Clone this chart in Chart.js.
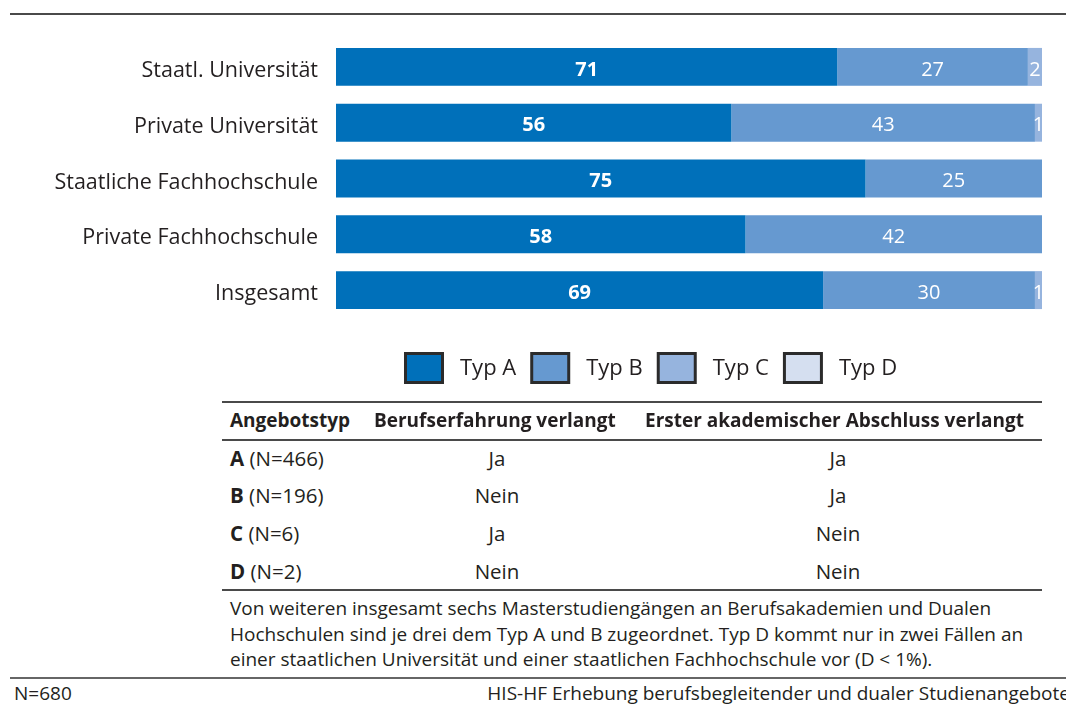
<!DOCTYPE html>
<html lang="de">
<head>
<meta charset="utf-8">
<script src="https://cdn.jsdelivr.net/npm/chart.js@4"></script>
<style>
  body { margin: 0; background: #fff; font-family: "Open Sans", sans-serif; color: #231f20; }
  #wrap { position: relative; width: 1066px; height: 704px; overflow: hidden; }
  #chartBox { position: absolute; left: 0; top: 0; width: 1066px; height: 403px; }
  .rule { position: absolute; background: #4a4a4a; }
  .t { position: absolute; white-space: nowrap; font-size: 19px; line-height: 26px; }
  .th { font-weight: bold; font-size: 19px; }
  .tb { font-size: 20.5px; }
  .c { transform: translateX(-50%); }
</style>
</head>
<body>
<div id="wrap">
  <div class="rule" style="left:10px; top:13px; width:1056px; height:2px;"></div>
  <div id="chartBox"><canvas id="grafico"></canvas></div>
  <div id="tabelle"></div>
</div>
<script>
const kategorien = ["Staatl. Universität", "Private Universität", "Staatliche Fachhochschule", "Private Fachhochschule", "Insgesamt"];
const typA = [71, 56, 75, 58, 69];
const typB = [27, 43, 25, 42, 30];
const typC = [2, 1, 0, 0, 1];
const typD = [0, 0, 0, 0, 0];
const serienNamen = ["Typ A", "Typ B", "Typ C", "Typ D"];
const farben = ["#0070ba", "#6699d0", "#96b4de", "#d5dff0"];

const tabellenKopf = ["Angebotstyp", "Berufserfahrung verlangt", "Erster akademischer Abschluss verlangt"];
const tabellenTyp = ["A", "B", "C", "D"];
const tabellenN = ["(N=466)", "(N=196)", "(N=6)", "(N=2)"];
const berufserfahrung = ["Ja", "Nein", "Ja", "Nein"];
const ersterAbschluss = ["Ja", "Ja", "Nein", "Nein"];
const anmerkung = [
  "Von weiteren insgesamt sechs Masterstudiengängen an Berufsakademien und Dualen",
  "Hochschulen sind je drei dem Typ A und B zugeordnet. Typ D kommt nur in zwei Fällen an",
  "einer staatlichen Universität und einer staatlichen Fachhochschule vor (D < 1%)."
];
const fussLinks = "N=680";
const fussRechts = "HIS-HF Erhebung berufsbegleitender und dualer Studienangebote";

// Werte in die Balken schreiben
const balkenWerte = {
  id: "balkenWerte",
  afterDatasetsDraw(chart) {
    const ctx = chart.ctx;
    chart.data.datasets.forEach((ds, i) => {
      const meta = chart.getDatasetMeta(i);
      meta.data.forEach((bar, j) => {
        const wert = ds.data[j];
        if (!wert) return;
        ctx.save();
        ctx.fillStyle = "#ffffff";
        ctx.font = (i === 0 ? "bold " : "") + "20px 'Open Sans'";
        ctx.textAlign = "center";
        ctx.textBaseline = "middle";
        ctx.fillText(String(wert), (bar.x + bar.base) / 2, bar.y + 3);
        ctx.restore();
      });
    });
  }
};

// eigene Legende unter dem Diagramm
const legende = {
  id: "legende",
  afterDraw(chart) {
    const ctx = chart.ctx;
    let x = 404;
    const y = 352;
    ctx.save();
    ctx.font = "22px 'Open Sans'";
    ctx.textBaseline = "middle";
    chart.data.datasets.forEach((ds) => {
      ctx.fillStyle = ds.backgroundColor;
      ctx.fillRect(x + 1.5, y + 1.5, 37, 29);
      ctx.strokeStyle = "#2b2b2b";
      ctx.lineWidth = 3;
      ctx.strokeRect(x + 1.5, y + 1.5, 37, 29);
      ctx.fillStyle = "#231f20";
      ctx.fillText(ds.label, x + 56, y + 17);
      x += 56 + ctx.measureText(ds.label).width + 14;
    });
    ctx.restore();
  }
};

const reihen = [typA, typB, typC, typD];

new Chart(document.getElementById("grafico"), {
  type: "bar",
  data: {
    labels: kategorien,
    datasets: reihen.map((d, i) => ({
      label: serienNamen[i],
      data: d,
      backgroundColor: farben[i],
      borderWidth: 0,
      barPercentage: 0.85,
      categoryPercentage: 0.8
    }))
  },
  options: {
    indexAxis: "y",
    responsive: true,
    maintainAspectRatio: false,
    animation: false,
    layout: { padding: { top: 39, left: 0, right: 24, bottom: 85 } },
    scales: {
      x: {
        stacked: true,
        display: false,
        min: 0,
        max: 100
      },
      y: {
        stacked: true,
        grid: { display: false },
        border: { display: false },
        ticks: {
          color: "#231f20",
          padding: 10,
          labelOffset: 4,
          font: { family: "'Open Sans'", size: 21.5 }
        },
        afterFit: function (scale) { scale.width = 336; }
      }
    },
    plugins: {
      tooltip: { enabled: false },
      legend: { display: false }
    }
  },
  plugins: [balkenWerte, legende]
});

// Tabelle und Fußzeile
function text(html, x, yMitte, extra) {
  return `<div class="t ${extra || ""}" style="left:${x}px; top:${yMitte - 13}px;">${html}</div>`;
}
let h = "";
h += `<div class="rule" style="left:222px; top:401px; width:820px; height:2px;"></div>`;
h += text(tabellenKopf[0], 230, 420, "th");
h += text(tabellenKopf[1], 374, 420, "th");
h += text(tabellenKopf[2], 645, 420, "th");
h += `<div class="rule" style="left:222px; top:439px; width:820px; height:1.5px;"></div>`;
const zeilenY = [458, 495, 533, 571];
tabellenTyp.forEach((typ, i) => {
  h += text(`<b>${typ}</b> ${tabellenN[i]}`, 230, zeilenY[i], "tb");
  h += text(berufserfahrung[i], 497, zeilenY[i], "tb c");
  h += text(ersterAbschluss[i], 838, zeilenY[i], "tb c");
});
h += `<div class="rule" style="left:222px; top:589px; width:820px; height:2px;"></div>`;
const notizY = [608, 634, 659];
anmerkung.forEach((z, i) => { h += text(z, 230, notizY[i]); });
h += `<div class="rule" style="left:10px; top:677px; width:1056px; height:2px; background:#666;"></div>`;
h += text(fussLinks, 14, 693);
h += `<div class="t" style="right:-4px; top:680px;">${fussRechts}</div>`;
document.getElementById("tabelle").innerHTML = h;
</script>
</body>
</html>
